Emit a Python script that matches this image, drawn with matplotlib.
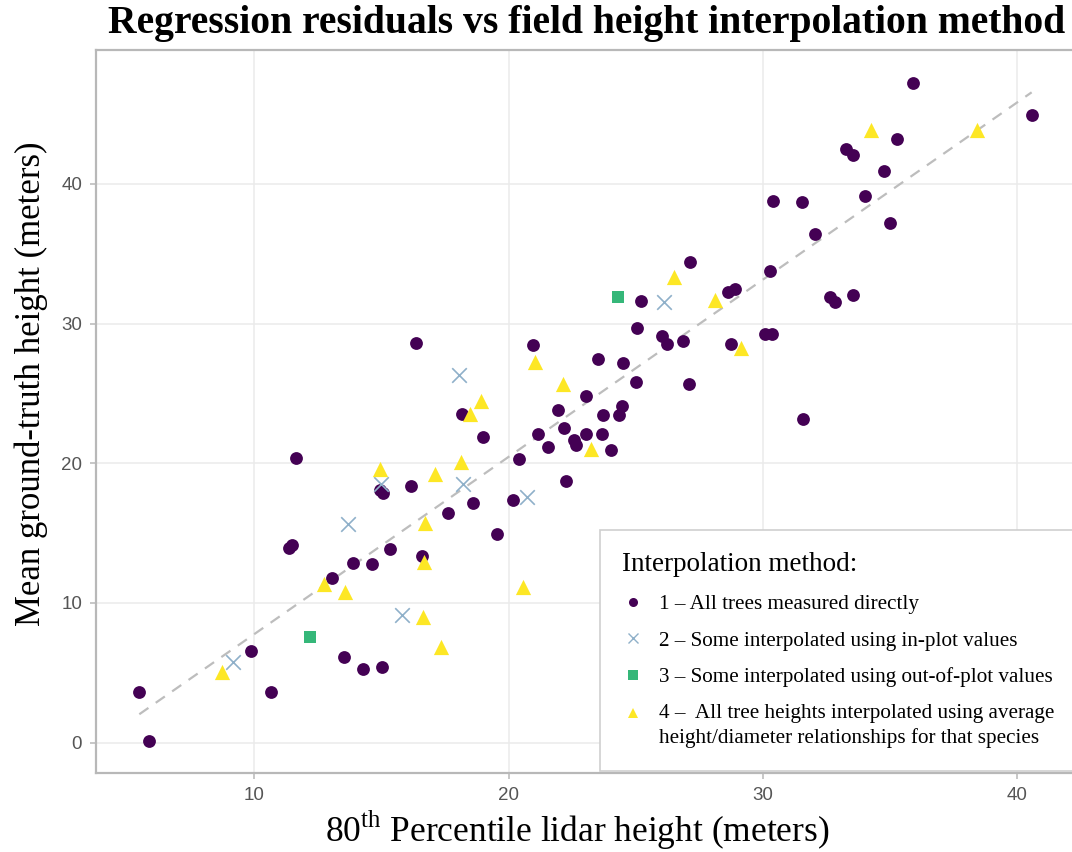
import numpy as np
import matplotlib
matplotlib.use("Agg")
import matplotlib.pyplot as plt
from matplotlib.lines import Line2D

plt.rcParams["mathtext.fontset"] = "custom"
plt.rcParams["mathtext.rm"] = "Liberation Serif"

# --- plot-level measurements: 80th percentile lidar height vs field height ---
# method 1: all trees measured directly
m1_lidar = [5.49, 5.88, 9.87, 10.67, 11.64, 11.39, 11.48, 13.05, 13.9, 14.62,
            15.36, 13.52, 14.29, 15.04, 14.95, 15.08, 16.16, 16.6, 16.37, 18.17,
            18.98, 20.4, 18.62, 20.16, 17.64, 19.54, 22.26, 27.13, 25.19, 25.04,
            26.02, 26.22, 26.84, 20.95, 23.5, 24.51, 25.0, 27.1, 23.03, 21.93,
            24.45, 24.34, 23.72, 21.15, 22.19, 23.03, 23.66, 22.59, 22.64, 21.54,
            24.01, 28.64, 28.9, 28.74, 30.08, 30.37, 30.41, 31.52, 32.05, 30.28,
            32.63, 32.83, 33.52, 35.88, 40.56, 35.28, 33.28, 33.52, 34.75, 34.0,
            35.01, 31.57]
m1_field = [3.64, 0.13, 6.57, 3.64, 20.39, 13.95, 14.14, 11.8, 12.87, 12.8,
            13.87, 6.1, 5.24, 5.43, 18.12, 17.84, 18.36, 13.35, 28.62, 23.56,
            21.89, 20.27, 17.12, 17.36, 16.45, 14.97, 18.72, 34.42, 31.6, 29.69,
            29.1, 28.57, 28.74, 28.45, 27.5, 27.19, 25.83, 25.71, 24.83, 23.8,
            24.09, 23.49, 23.44, 22.13, 22.49, 22.13, 22.13, 21.65, 21.3, 21.18,
            20.94, 32.27, 32.51, 28.57, 29.29, 29.29, 38.76, 38.71, 36.4, 33.75,
            31.91, 31.55, 32.08, 47.23, 44.92, 43.2, 42.53, 42.05, 40.91, 39.14,
            37.17, 23.16]

# method 2: some interpolated using in-plot values
m2_lidar = [9.16, 13.68, 15.8, 14.99, 18.07, 18.23, 20.71, 26.12]
m2_field = [5.78, 15.62, 9.13, 18.48, 26.31, 18.5, 17.6, 31.55]

# method 3: some interpolated using out-of-plot values
m3_lidar = [12.2, 24.32]
m3_field = [7.57, 31.91]

# method 4: all heights from species height/diameter relationships
m4_lidar = [8.73, 12.76, 13.59, 16.63, 14.95, 16.69, 16.72, 18.9, 18.49, 17.12,
            18.15, 20.58, 17.35, 26.52, 28.11, 21.04, 22.15, 23.24, 29.12, 34.23,
            38.42]
m4_field = [5.07, 11.35, 10.75, 9.0, 19.56, 12.94, 15.69, 24.47, 23.56, 19.22,
            20.1, 11.15, 6.86, 33.35, 31.72, 27.26, 25.66, 21.0, 28.22, 43.85,
            43.89]

method_labels = [
    "1 \u2013 All trees measured directly",
    "2 \u2013 Some interpolated using in-plot values",
    "3 \u2013 Some interpolated using out-of-plot values",
    "4 \u2013  All tree heights interpolated using average\n"
    "height/diameter relationships for that species",
]

x_ticks = [10, 20, 30, 40]
y_ticks = [0, 10, 20, 30, 40]

PURPLE = "#440154"
STEEL = "#8FB0C9"
GREEN = "#35B779"
YELLOW = "#FDE725"
SERIF = "Liberation Serif"

fig = plt.figure(figsize=(10.72, 8.52), dpi=100)
ax = fig.add_axes([0.0896, 0.0927, 0.915, 0.8486])

# least-squares line through every plot
all_x = np.array(m1_lidar + m2_lidar + m3_lidar + m4_lidar)
all_y = np.array(m1_field + m2_field + m3_field + m4_field)
slope, intercept = np.polyfit(all_x, all_y, 1)
fit_x = np.array([all_x.min(), all_x.max()])
ax.plot(fit_x, slope * fit_x + intercept, ls=(0, (5, 4)), color="#BDBDBD",
        lw=1.6, zorder=2)

ax.scatter(m1_lidar, m1_field, s=85, marker="o", color=PURPLE, lw=0, zorder=3)
ax.scatter(m2_lidar, m2_field, s=110, marker="x", color=STEEL, lw=1.2, zorder=3)
ax.scatter(m3_lidar, m3_field, s=85, marker="s", color=GREEN, lw=0, zorder=3)
ax.scatter(m4_lidar, m4_field, s=120, marker="^", color=YELLOW, lw=0, zorder=3)

ax.set_xlim(3.79, 42.34)
ax.set_ylim(-2.18, 49.59)
ax.set_xticks(x_ticks)
ax.set_yticks(y_ticks)
ax.grid(True, color="#EBEBEB", lw=1.1)
ax.set_axisbelow(True)
for sp in ax.spines.values():
    sp.set_color("#B8B8B8")
    sp.set_linewidth(1.6)
ax.tick_params(colors="#B8B8B8", labelcolor="#555555", labelsize=13.5,
               length=4, width=1.1, pad=6)
for lab in ax.get_xticklabels() + ax.get_yticklabels():
    lab.set_family("Liberation Sans")

fig.text(0.538, 0.026, r"80$^{\rm th}$ Percentile lidar height (meters)",
         family=SERIF, fontsize=25.5, ha="center", va="center")
fig.text(0.029, 0.55, "Mean ground-truth height (meters)", family=SERIF,
         fontsize=25, ha="center", va="center", rotation=90)
fig.text(0.547, 0.973, "Regression residuals vs field height interpolation method",
         family=SERIF, fontweight="bold", fontsize=28.5, ha="center", va="center")

handles = [
    Line2D([], [], ls="", marker="o", ms=6.5, color=PURPLE, mew=0),
    Line2D([], [], ls="", marker="x", ms=6.5, color=STEEL, mew=1),
    Line2D([], [], ls="", marker="s", ms=6.5, color=GREEN, mew=0),
    Line2D([], [], ls="", marker="^", ms=7, color=YELLOW, mew=0),
]
leg = ax.legend(handles, method_labels, title="Interpolation method:",
                loc="upper left", bbox_to_anchor=(0.514, 0.336),
                prop={"family": SERIF, "size": 15.2},
                title_fontproperties={"family": SERIF, "size": 19.5},
                frameon=True, fancybox=False, edgecolor="#CFCFCF",
                framealpha=1, borderpad=1.05, labelspacing=0.8,
                handletextpad=0.75, handlelength=1.0, borderaxespad=0)
leg._legend_box.align = "left"
leg.get_frame().set_linewidth(1.2)
leg.get_texts()[3].set_linespacing(1.35)
# the two-line entry keeps its marker level with the first line
tri = leg.legend_handles[3]
tri.set_ydata(np.asarray(tri.get_ydata(), dtype=float) + 9.5)

fig.savefig("out.png", dpi=100)
